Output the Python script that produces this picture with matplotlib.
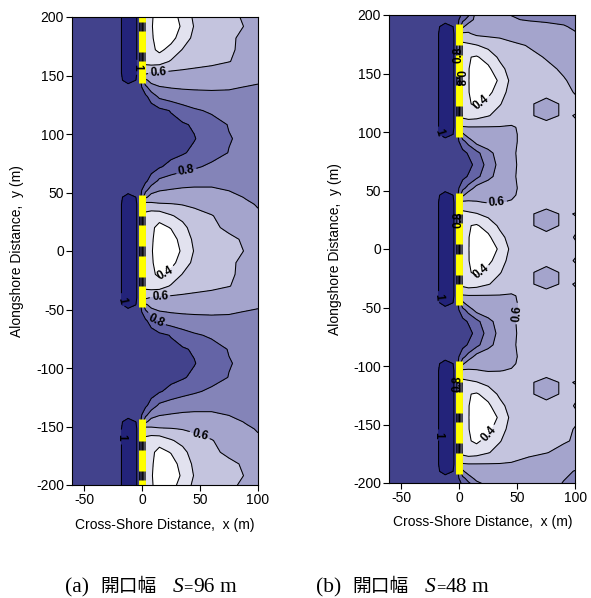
import numpy as np
import matplotlib
matplotlib.use("Agg")
import matplotlib.pyplot as plt

plt.rcParams['font.family'] = ['Liberation Sans', 'DejaVu Sans']
plt.rcParams['axes.unicode_minus'] = False

# ---- contour styling -------------------------------------------------------
levels = [0.0, 0.4, 0.5, 0.6, 0.7, 0.8, 0.9, 1.0, 2.0]
band_colors = ['#ffffff', '#e2e2ef', '#c4c4de', '#a4a4cc',
               '#8484b8', '#6464a6', '#42428c', '#23237a']
labelled_levels = [0.4, 0.6, 0.8, 1.0]
plain_levels = [0.5, 0.7, 0.9]
label_text = {0.4: '0.4', 0.6: '0.6', 0.8: '0.8', 1.0: '1'}

# cross-shore grid columns (m)
x_grid = [-60, -20, -12, -3, 3, 8, 15, 25, 35, 45, 60, 75, 90, 100]

# ---- (a) opening width S = 96 m ------------------------------------------
a_breakwaters = [-192, 0, 192]
a_rows = [-96, -84, -72, -60, -52, -46, -40, -30, -20, -10,
          0, 10, 20, 30, 40, 46, 52, 60, 72, 84]
a_kd = [
    [0.95, 0.95, 0.95, 0.95, 0.95, 0.95, 0.95, 0.94, 0.925, 0.905, 0.85, 0.805, 0.78, 0.77],
    [0.95, 0.95, 0.95, 0.95, 0.95, 0.95, 0.94, 0.925, 0.91, 0.89, 0.84, 0.795, 0.77, 0.76],
    [0.95, 0.95, 0.95, 0.95, 0.95, 0.945, 0.925, 0.895, 0.85, 0.815, 0.785, 0.76, 0.75, 0.745],
    [0.95, 0.95, 0.95, 0.95, 0.92, 0.86, 0.78, 0.75, 0.73, 0.72, 0.715, 0.715, 0.72, 0.725],
    [0.95, 0.96, 0.97, 0.96, 0.83, 0.74, 0.705, 0.695, 0.692, 0.692, 0.692, 0.694, 0.702, 0.708],
    [0.95, 0.98, 1.03, 0.99, 0.72, 0.665, 0.66, 0.66, 0.66, 0.665, 0.67, 0.675, 0.685, 0.69],
    [0.95, 0.98, 1.05, 0.99, 0.58, 0.61, 0.615, 0.62, 0.625, 0.63, 0.635, 0.645, 0.66, 0.67],
    [0.95, 0.98, 1.05, 0.99, 0.47, 0.45, 0.455, 0.51, 0.54, 0.56, 0.58, 0.598, 0.62, 0.64],
    [0.95, 0.98, 1.05, 0.99, 0.47, 0.42, 0.38, 0.43, 0.505, 0.54, 0.565, 0.592, 0.615, 0.63],
    [0.95, 0.98, 1.05, 0.99, 0.47, 0.415, 0.35, 0.37, 0.445, 0.525, 0.56, 0.59, 0.615, 0.63],
    [0.95, 0.98, 1.05, 0.99, 0.47, 0.41, 0.34, 0.33, 0.42, 0.505, 0.54, 0.575, 0.605, 0.63],
    [0.95, 0.98, 1.05, 0.99, 0.47, 0.415, 0.35, 0.36, 0.435, 0.52, 0.55, 0.58, 0.615, 0.64],
    [0.95, 0.98, 1.05, 0.99, 0.47, 0.42, 0.37, 0.405, 0.47, 0.545, 0.58, 0.62, 0.65, 0.67],
    [0.95, 0.98, 1.05, 0.99, 0.47, 0.44, 0.44, 0.49, 0.53, 0.56, 0.595, 0.64, 0.67, 0.69],
    [0.95, 0.98, 1.05, 0.99, 0.56, 0.58, 0.59, 0.595, 0.605, 0.62, 0.645, 0.67, 0.69, 0.705],
    [0.95, 0.98, 1.03, 0.99, 0.72, 0.66, 0.66, 0.66, 0.66, 0.665, 0.67, 0.68, 0.705, 0.72],
    [0.95, 0.96, 0.97, 0.96, 0.83, 0.74, 0.705, 0.695, 0.69, 0.69, 0.69, 0.702, 0.72, 0.73],
    [0.95, 0.95, 0.95, 0.95, 0.92, 0.86, 0.78, 0.75, 0.73, 0.72, 0.72, 0.725, 0.735, 0.74],
    [0.95, 0.95, 0.95, 0.95, 0.95, 0.94, 0.91, 0.87, 0.84, 0.815, 0.78, 0.76, 0.75, 0.75],
    [0.95, 0.95, 0.95, 0.95, 0.95, 0.95, 0.94, 0.93, 0.91, 0.88, 0.84, 0.797, 0.77, 0.76],
]
a_label_pos = [(14, 151), (-5, 157), (38.5, 66.4), (20, -20.5), (15.5, -39),
               (12.6, -59), (-16, -42), (50, -156), (-16, -159)]

# ---- (b) opening width S = 48 m ------------------------------------------
b_breakwaters = [-144, 0, 144]
b_rows = [-72, -62, -52, -46, -40, -30, -20, -10, 0, 10, 20, 30, 40, 46, 52, 62]
b_kd = [
    [0.95, 0.95, 0.95, 0.95, 0.95, 0.93, 0.87, 0.76, 0.67, 0.615, 0.565, 0.56, 0.565, 0.575],
    [0.95, 0.95, 0.95, 0.95, 0.93, 0.89, 0.83, 0.725, 0.665, 0.61, 0.57, 0.565, 0.57, 0.575],
    [0.95, 0.96, 0.97, 0.96, 0.83, 0.76, 0.66, 0.645, 0.635, 0.615, 0.57, 0.565, 0.565, 0.57],
    [0.95, 0.98, 1.03, 0.99, 0.72, 0.645, 0.635, 0.63, 0.625, 0.615, 0.57, 0.565, 0.565, 0.57],
    [0.95, 0.98, 1.05, 0.99, 0.61, 0.605, 0.605, 0.605, 0.605, 0.61, 0.57, 0.565, 0.57, 0.59],
    [0.95, 0.98, 1.05, 0.99, 0.47, 0.45, 0.46, 0.495, 0.53, 0.55, 0.59, 0.625, 0.59, 0.603],
    [0.95, 0.98, 1.05, 0.99, 0.46, 0.41, 0.38, 0.44, 0.495, 0.54, 0.59, 0.625, 0.59, 0.58],
    [0.95, 0.98, 1.05, 0.99, 0.46, 0.405, 0.34, 0.37, 0.46, 0.535, 0.565, 0.575, 0.58, 0.605],
    [0.95, 0.98, 1.05, 0.99, 0.46, 0.405, 0.33, 0.33, 0.42, 0.525, 0.56, 0.57, 0.575, 0.585],
    [0.95, 0.98, 1.05, 0.99, 0.46, 0.405, 0.34, 0.38, 0.47, 0.54, 0.565, 0.575, 0.575, 0.605],
    [0.95, 0.98, 1.05, 0.99, 0.46, 0.405, 0.39, 0.44, 0.52, 0.55, 0.59, 0.625, 0.59, 0.585],
    [0.95, 0.98, 1.05, 0.99, 0.47, 0.48, 0.495, 0.53, 0.55, 0.56, 0.59, 0.625, 0.59, 0.603],
    [0.95, 0.98, 1.05, 0.99, 0.58, 0.59, 0.595, 0.605, 0.602, 0.595, 0.565, 0.565, 0.56, 0.57],
    [0.95, 0.98, 1.03, 0.99, 0.72, 0.64, 0.63, 0.625, 0.62, 0.61, 0.57, 0.565, 0.565, 0.57],
    [0.95, 0.96, 0.97, 0.96, 0.83, 0.76, 0.66, 0.645, 0.635, 0.615, 0.57, 0.565, 0.565, 0.57],
    [0.95, 0.95, 0.95, 0.95, 0.93, 0.89, 0.83, 0.725, 0.665, 0.61, 0.57, 0.565, 0.57, 0.575],
]
# the uppermost and lowermost reaches differ from the repeating cell
b_top_rows = [144, 154, 164, 174]
b_top_cols = [35, 45, 60, 75, 90, 100]
b_top_kd = [
    [0.42, 0.525, 0.56, 0.58, 0.595, 0.615],
    [0.47, 0.54, 0.57, 0.585, 0.61, 0.625],
    [0.52, 0.55, 0.58, 0.605, 0.625, 0.64],
    [0.55, 0.58, 0.605, 0.625, 0.645, 0.66],
]
b_crest_rows = [184, 190, 196, 206]
b_crest_cols = [15, 25, 35, 45, 60, 75, 90, 100]
b_crest_kd = [
    [0.62, 0.625, 0.63, 0.64, 0.65, 0.66, 0.675, 0.695],
    [0.64, 0.645, 0.65, 0.66, 0.675, 0.685, 0.695, 0.71],
    [0.66, 0.665, 0.68, 0.695, 0.705, 0.71, 0.715, 0.72],
    [0.68, 0.69, 0.695, 0.71, 0.72, 0.73, 0.74, 0.745],
]
b_bottom_rows = [-164, -174, -184, -190, -196, -206]
b_bottom_cols = [45, 60, 75, 90, 100]
b_bottom_kd = [
    [0.54, 0.58, 0.59, 0.595, 0.605],
    [0.55, 0.585, 0.598, 0.615, 0.625],
    [0.61, 0.625, 0.64, 0.655, 0.67],
    [0.615, 0.63, 0.65, 0.68, 0.705],
    [0.615, 0.635, 0.66, 0.695, 0.72],
    [0.62, 0.64, 0.67, 0.72, 0.74],
]
b_label_pos = [(19.5, 124.5), (-16.4, 100), (32.5, 37.6), (19.5, -20.8),
               (-17.8, -40.8), (48, -55), (-17.8, -159), (25, -157.6),
               (0, 166), (0, 146), (0, 25), (0, -115)]

# breakwater blocks, relative to each breakwater centre (m)
block_spans = [(-48, -30), (-22, -4), (4, 22), (30, 48)]


def build_field(rows, table, centres, patches=()):
    ys, zs = [], []
    for c in centres:
        for r, vals in zip(rows, table):
            ys.append(c + r)
            zs.append(list(vals))
    ys = np.asarray(ys, float)
    zs = np.asarray(zs, float)
    order = np.argsort(ys)
    ys, zs = ys[order], zs[order]
    for prow, pcol, pval in patches:
        for yy, vals in zip(prow, pval):
            i = int(np.argmin(np.abs(ys - yy)))
            for xx, v in zip(pcol, vals):
                zs[i, x_grid.index(xx)] = v
    return ys, zs


def draw_panel(ax, ys, zs, centres, label_pos):
    X, Y = np.meshgrid(np.asarray(x_grid, float), ys)
    ax.contourf(X, Y, zs, levels=levels, colors=band_colors, zorder=1)
    ax.contour(X, Y, zs, levels=plain_levels, colors='k', linewidths=0.75, zorder=2)
    cs = ax.contour(X, Y, zs, levels=labelled_levels, colors='k', linewidths=0.75, zorder=2)
    for c in centres:
        for y0, y1 in block_spans:
            lo, hi = max(c + y0, -200), min(c + y1, 200)
            if hi > lo:
                ax.plot([0, 0], [lo, hi], color='#ffff00', lw=5.0,
                        solid_capstyle='butt', zorder=2.5)
    texts = ax.clabel(cs, manual=label_pos, inline=True, inline_spacing=2,
                      fmt=label_text, fontsize=8.5, colors='k')
    for t in texts:
        t.set_fontweight('bold')
        t.set_zorder(3)
    ax.set_xlim(-60, 100)
    ax.set_ylim(-200, 200)
    ax.set_xticks([-50, 0, 50, 100])
    ax.set_yticks(np.arange(-200, 201, 50))
    ax.tick_params(direction='out', length=4, width=0.8, labelsize=10, pad=2,
                   top=False, right=False)
    for s in ax.spines.values():
        s.set_linewidth(0.8)
        s.set_zorder(4)
    ax.set_xlabel('Cross-Shore Distance,  x (m)', fontsize=10)
    ax.set_ylabel('Alongshore Distance,  y (m)', fontsize=10)


fig = plt.figure(figsize=(5.91, 5.98), dpi=100)
W, H = 591.0, 598.0
ax_a = fig.add_axes([72.4 / W, 1 - 485 / H, 185.6 / W, 468 / H])
ax_b = fig.add_axes([389.4 / W, 1 - 483 / H, 186.0 / W, 468 / H])

ya, za = build_field(a_rows, a_kd, a_breakwaters)
yb, zb = build_field(b_rows, b_kd, b_breakwaters,
                     patches=[(b_top_rows, b_top_cols, b_top_kd),
                              (b_crest_rows, b_crest_cols, b_crest_kd),
                              (b_bottom_rows, b_bottom_cols, b_bottom_kd)])

draw_panel(ax_a, ya, za, a_breakwaters, a_label_pos)
draw_panel(ax_b, yb, zb, b_breakwaters, b_label_pos)

ax_a.yaxis.set_label_coords(-0.26, 0.5)
ax_b.yaxis.set_label_coords(-0.255, 0.5)
ax_a.xaxis.set_label_coords(0.5, -0.07)
ax_b.xaxis.set_label_coords(0.5, -0.068)

# captions
serif = ['Liberation Serif', 'DejaVu Serif']
cjk = ['Noto Sans CJK JP', 'DejaVu Sans']
base = 1 - 592 / H
caption_parts = [
    [("(a)", 65, serif, 'normal', 15.5), ("開口幅", 100, cjk, 'normal', 13.5),
     ("S", 173, serif, 'italic', 15.5), ("=", 183, serif, 'normal', 12),
     ("96", 193, serif, 'normal', 15.5), ("m", 219, serif, 'normal', 15.5)],
    [("(b)", 316, serif, 'normal', 15.5), ("開口幅", 352, cjk, 'normal', 13.5),
     ("S", 425, serif, 'italic', 15.5), ("=", 436, serif, 'normal', 12),
     ("48", 446, serif, 'normal', 15.5), ("m", 472, serif, 'normal', 15.5)],
]
for parts in caption_parts:
    for txt, xp, fam, style, size in parts:
        fig.text(xp / W, base, txt, family=fam, style=style, fontsize=size,
                 ha='left', va='baseline')

fig.savefig('out.png', dpi=100)
